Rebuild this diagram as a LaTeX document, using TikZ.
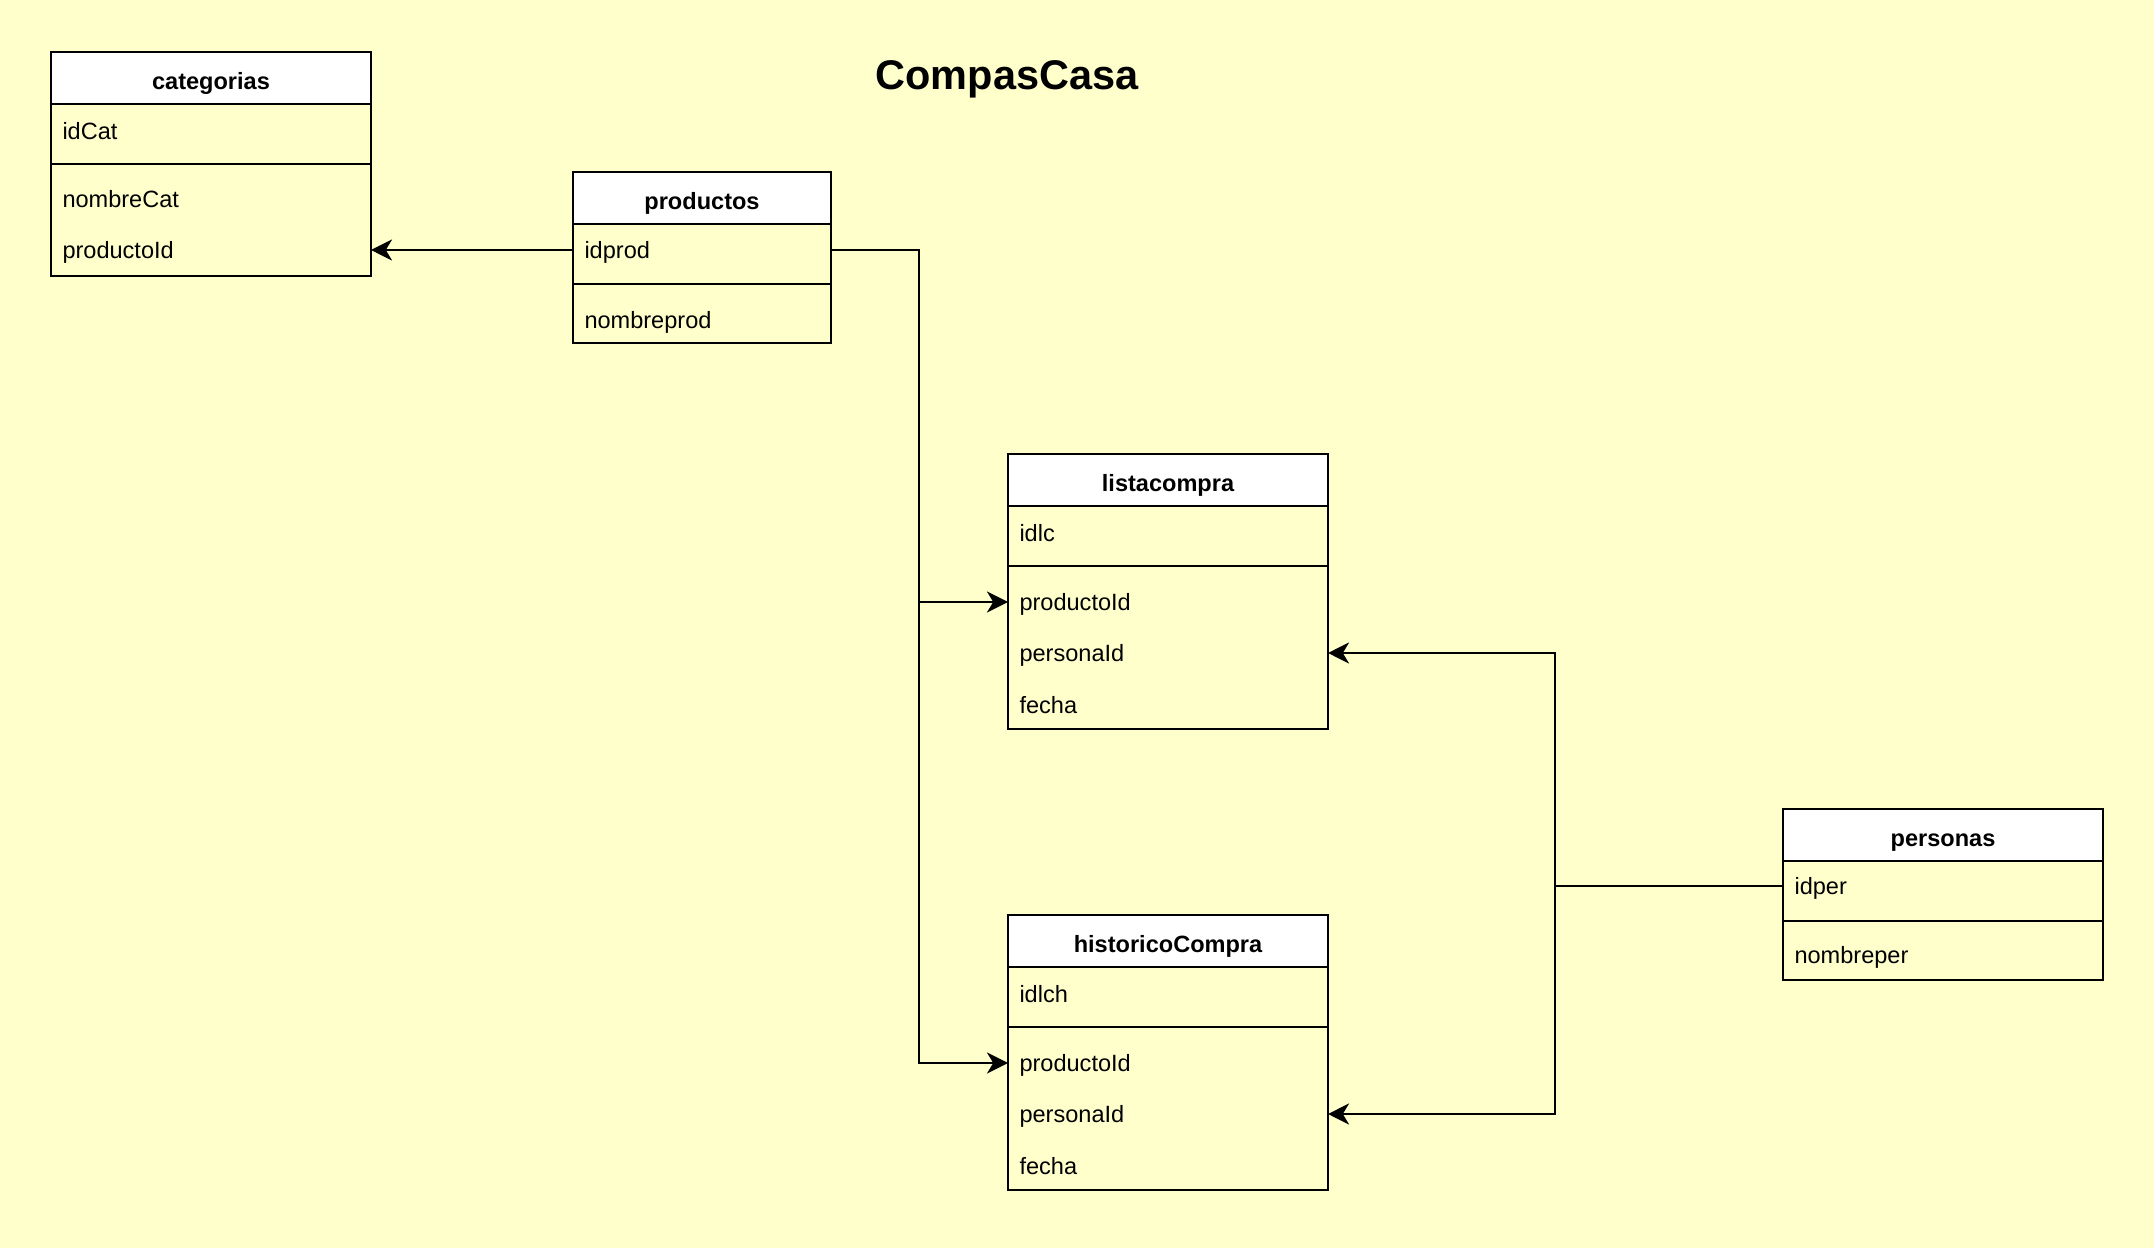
\documentclass[tikz,border=0pt]{standalone}
\usepackage{fontspec}
\setmainfont{Liberation Sans}
\usepackage{tikz}
\usetikzlibrary{arrows.meta, calc, positioning}
\definecolor{paper}{HTML}{FFFFCC}

\tikzset{
  tblhead/.style={draw, fill=white, anchor=north west, inner sep=0pt, outer sep=0pt, minimum width=#1, minimum height=0.52cm, text height=7.8pt, text depth=1.4pt, font=\fontsize{6.7}{8}\selectfont\bfseries},
  tblhead/.default=3.2cm,
  tblbox/.style={draw, inner sep=0pt, outer sep=0pt, minimum width=#1},
  tblbox/.default=3.2cm,
  field/.style={anchor=west, inner xsep=0.115cm, inner ysep=0pt, outer sep=0pt, text width=#1, text height=6.2pt, text depth=1.4pt, align=left, font=\fontsize{6.7}{8}\selectfont},
  field/.default=2.97cm,
  fk/.style={-{Stealth[length=6pt, width=6pt, inset=1.8pt]}},
}

\begin{document}
\begin{tikzpicture}[line width=0.57pt]
\fill[paper] (0,0) rectangle (21.54,-12.48);
\useasboundingbox (0,0) rectangle (21.54,-12.48);

\node[font=\fontsize{11.8}{14}\selectfont\bfseries] (title) at (10.07,-0.79) {CompasCasa};

% categorias
\node[tblhead] (cathead) at (0.51,-0.52) {categorias};
\node[tblbox, minimum height=0.60cm, below=0pt of cathead] (catpk) {};
\node[tblbox, minimum height=1.123cm, below=0pt of catpk] (catfk) {};
\node[field] (catIdCat) at (0.51,-1.31) {idCat};
\node[field] (catNombre) at (0.51,-1.99) {nombreCat};
\node[field] (catProducto) at (0.51,-2.50) {productoId};

% productos
\node[tblhead=2.58cm] (prodhead) at (5.73,-1.72) {productos};
\node[tblbox=2.58cm, minimum height=0.60cm, below=0pt of prodhead] (prodpk) {};
\node[tblbox=2.58cm, minimum height=0.593cm, below=0pt of prodpk] (prodfk) {};
\node[field=2.35cm] (prodIdprod) at (5.73,-2.50) {idprod};
\node[field=2.35cm] (prodNombre) at (5.73,-3.20) {nombreprod};

% listacompra
\node[tblhead] (lchead) at (10.08,-4.54) {listacompra};
\node[tblbox, minimum height=0.60cm, below=0pt of lchead] (lcpk) {};
\node[tblbox, minimum height=1.63cm, below=0pt of lcpk] (lcfk) {};
\node[field] (lcIdlc) at (10.08,-5.33) {idlc};
\node[field] (lcProducto) at (10.08,-6.02) {productoId};
\node[field] (lcPersona) at (10.08,-6.53) {personaId};
\node[field] (lcFecha) at (10.08,-7.05) {fecha};

% historicoCompra
\node[tblhead] (hchead) at (10.08,-9.15) {historicoCompra};
\node[tblbox, minimum height=0.60cm, below=0pt of hchead] (hcpk) {};
\node[tblbox, minimum height=1.63cm, below=0pt of hcpk] (hcfk) {};
\node[field] (hcIdlch) at (10.08,-9.94) {idlch};
\node[field] (hcProducto) at (10.08,-10.63) {productoId};
\node[field] (hcPersona) at (10.08,-11.14) {personaId};
\node[field] (hcFecha) at (10.08,-11.66) {fecha};

% personas
\node[tblhead] (perhead) at (17.83,-8.09) {personas};
\node[tblbox, minimum height=0.60cm, below=0pt of perhead] (perpk) {};
\node[tblbox, minimum height=0.593cm, below=0pt of perpk] (perfk) {};
\node[field] (perIdper) at (17.83,-8.86) {idper};
\node[field] (perNombre) at (17.83,-9.55) {nombreper};

% relaciones
\coordinate (prodbend) at (9.19,-2.50);
\coordinate (perbend) at (15.55,-8.86);
\draw[fk] (prodIdprod.west) -- (catProducto.east);
\draw[fk] (prodIdprod.east) -- (prodbend) |- (lcProducto.west);
\draw[fk] (prodIdprod.east) -- (prodbend) |- (hcProducto.west);
\draw[fk] (perIdper.west) -- (perbend) |- (lcPersona.east);
\draw[fk] (perIdper.west) -- (perbend) |- (hcPersona.east);
\end{tikzpicture}
\end{document}
